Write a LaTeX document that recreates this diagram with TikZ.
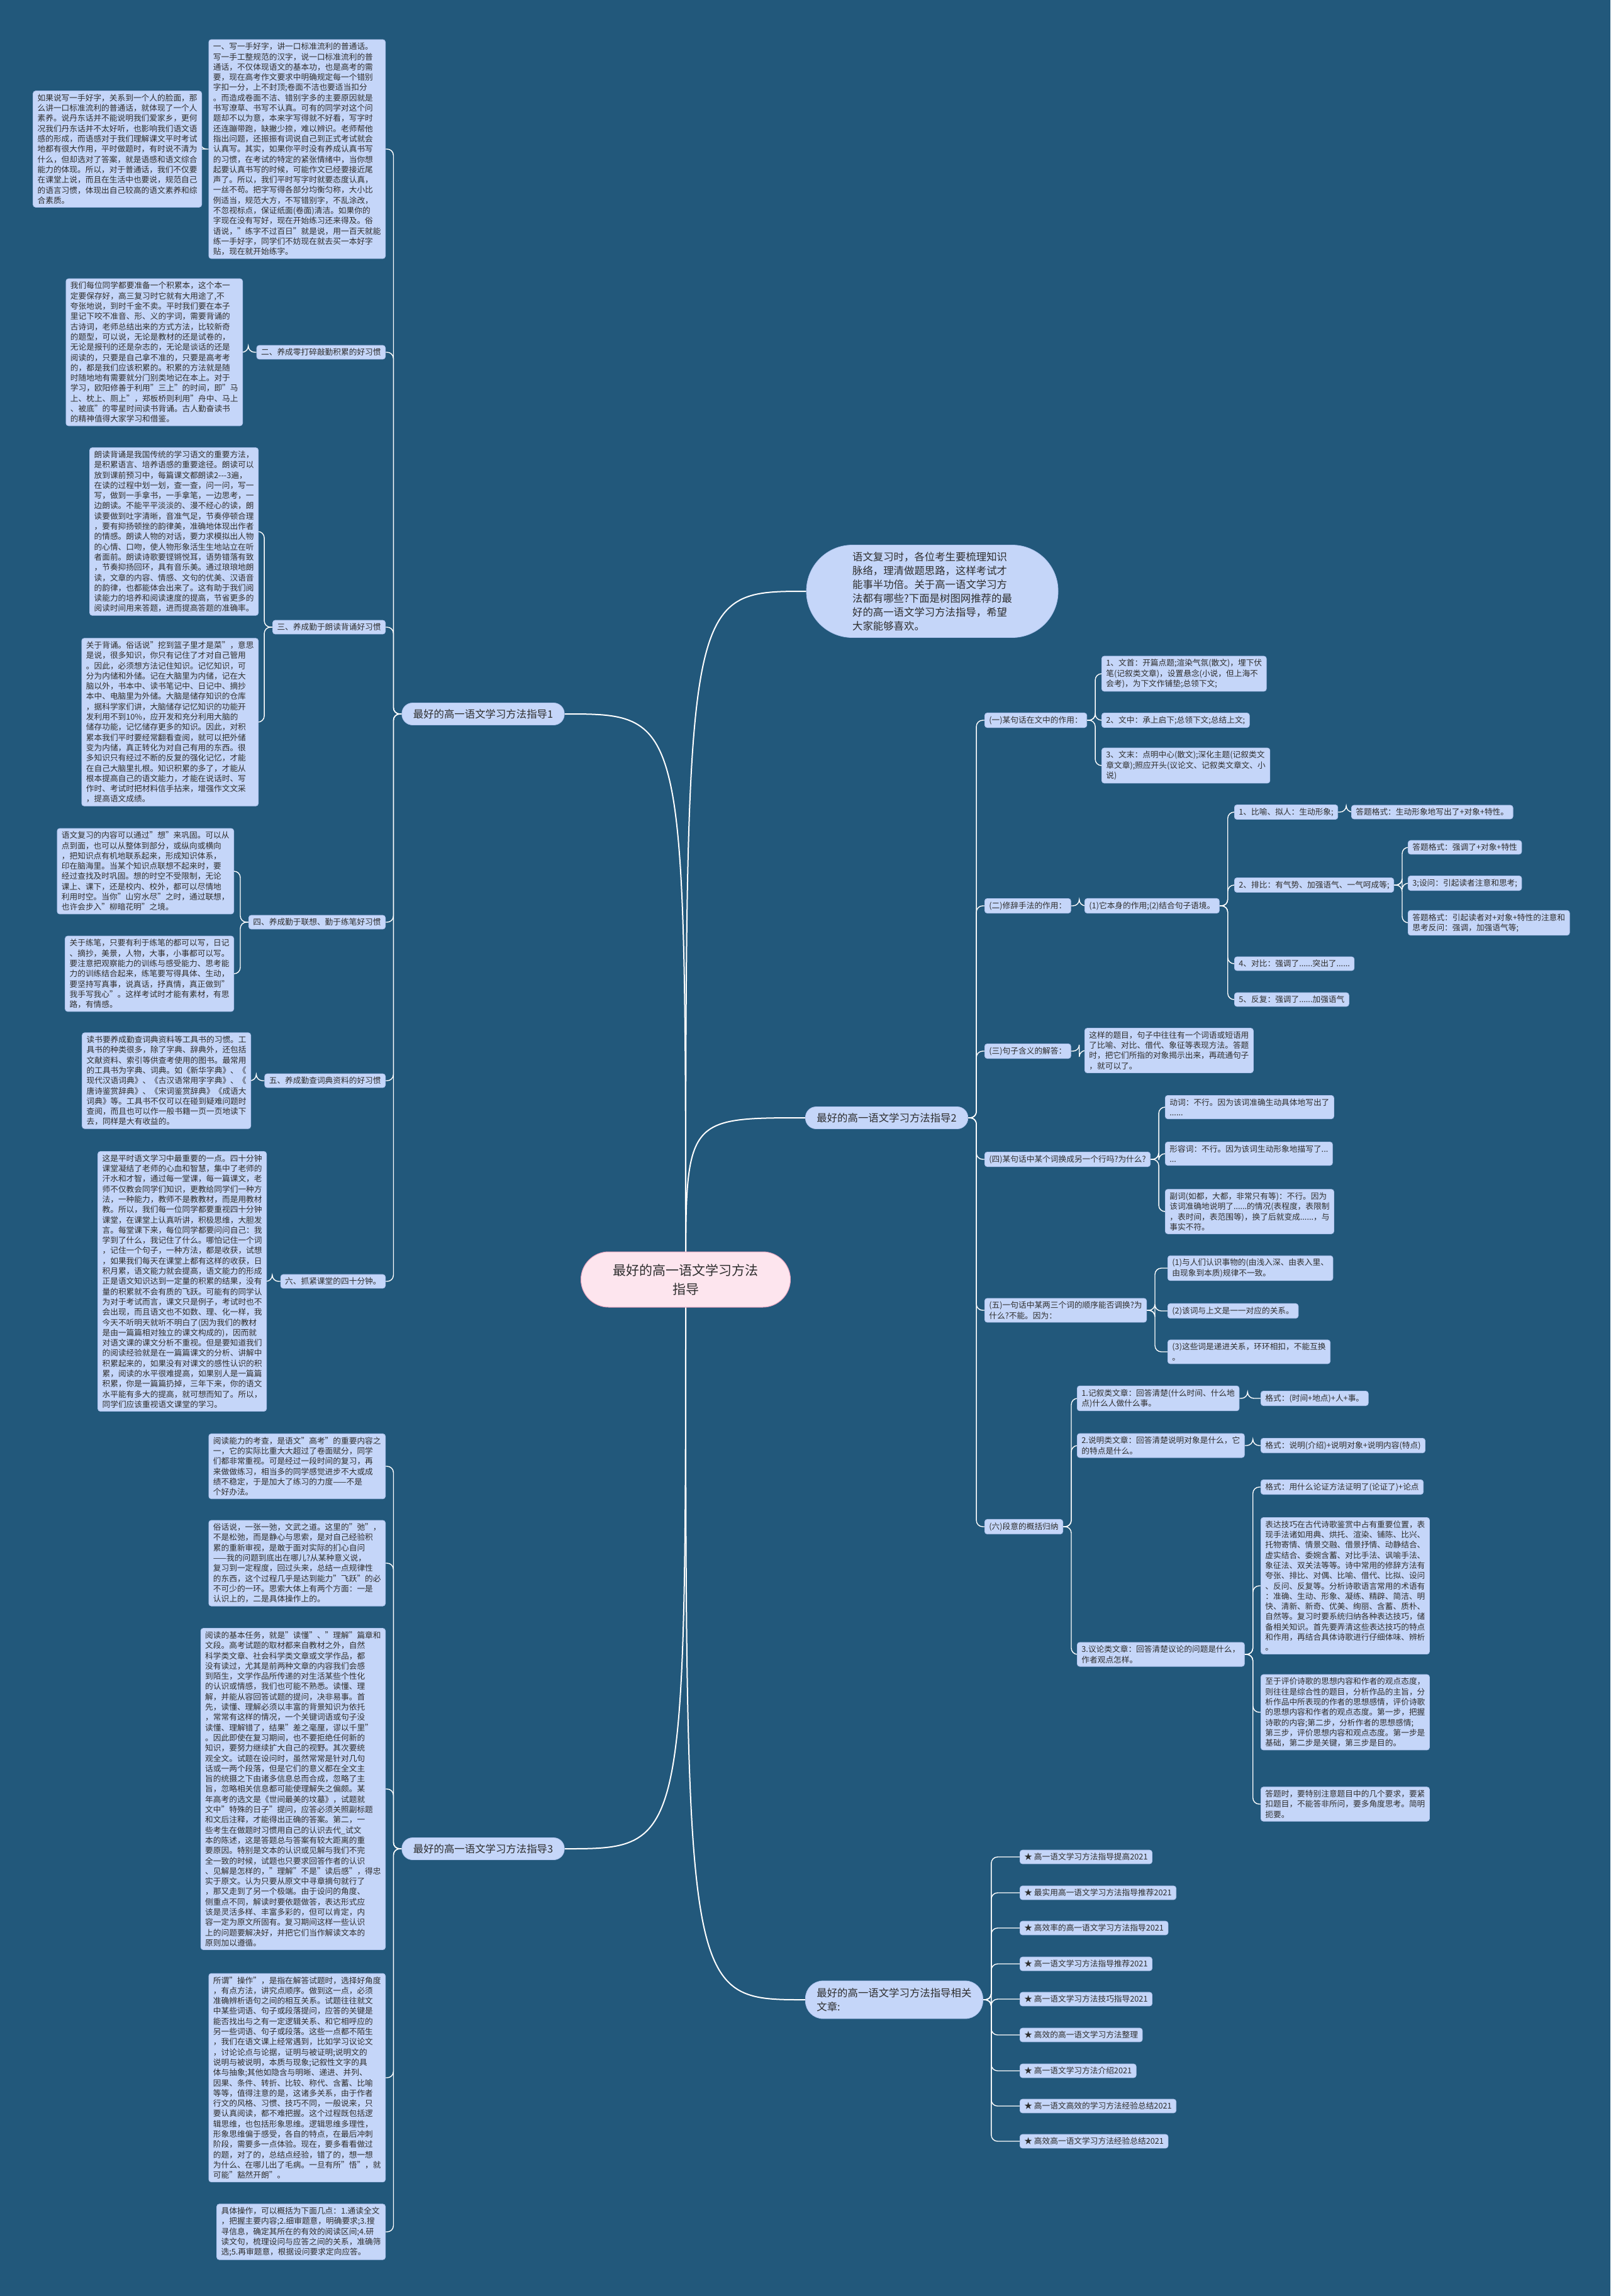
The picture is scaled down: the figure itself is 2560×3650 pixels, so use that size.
\documentclass[tikz,border=0pt]{standalone}
\usepackage{fontspec}
\setmainfont{Noto Sans CJK SC}
\usetikzlibrary{calc}
\definecolor{bgc}{HTML}{22587B}
\definecolor{boxc}{HTML}{C5D6F9}
\definecolor{boxd}{HTML}{AFC4EE}
\definecolor{txt}{HTML}{2E2E2E}
\definecolor{pinkf}{HTML}{FDE5EE}
\definecolor{pinkd}{HTML}{E8A3BE}
\pgfdeclarelayer{bglayer}\pgfdeclarelayer{links}\pgfsetlayers{bglayer,links,main}
\tikzset{
 tb/.style={draw=boxd, line width=0.8pt, fill=boxc, rounded corners=4pt, align=left, inner xsep=7pt, inner ysep=5pt, text=txt, font=\fontsize{12.7}{16.3}\selectfont},
 tbw/.style={tb, anchor=west},
 tbe/.style={tb, anchor=east},
 brn/.style={draw=boxd, line width=0.8pt, fill=boxc, rounded corners=17pt, inner xsep=18pt, minimum height=35pt, text=txt, font=\fontsize{16.4}{22}\selectfont, align=left},
 conn/.style={draw=white, line width=1.4pt, rounded corners=10pt},
 mainc/.style={draw=white, line width=2pt},
}
\newcommand\linkL[2]{\draw[conn] (#1.west) -- ++(-13,0) |- (#2.east);}
\newcommand\linkR[2]{\draw[conn] (#1.east) -- ++(13,0) |- (#2.west);}
\begin{document}
\begin{tikzpicture}[x=1pt,y=-1pt]
\begin{pgfonlayer}{bglayer}
\fill[bgc] (0,0) rectangle (2560,3650);
\end{pgfonlayer}
\useasboundingbox (0,0) rectangle (2560,3650);

% center
\node[draw=pinkd, line width=1pt, fill=pinkf, rounded corners=44pt, minimum width=333pt, minimum height=88pt, font=\fontsize{21}{30}\selectfont, align=center, text=txt] (cn) at (1090,2034) {最好的高一语文学习方法\\指导};

% branches
\node[brn] (br1) at (768,1135) {最好的高一语文学习方法指导1};
\node[brn, anchor=west] (br2) at (1280,1777) {最好的高一语文学习方法指导2};
\node[brn] (br3) at (768,2939) {最好的高一语文学习方法指导3};
\node[brn, anchor=west, rounded corners=28pt, minimum height=60pt] (br4) at (1280,3179) {最好的高一语文学习方法指导相关\\文章:};
\node[draw=boxd, line width=0.8pt, fill=boxc, rounded corners=73pt, minimum width=400pt, minimum height=147pt, align=left, font=\fontsize{16.4}{22}\selectfont, text=txt] (intro) at (1482,940) {语文复习时，各位考生要梳理知识\\脉络，理清做题思路，这样考试才\\能事半功倍。关于高一语文学习方\\法都有哪些?下面是树图网推荐的最\\好的高一语文学习方法指导，希望\\大家能够喜欢。};

% ---------- branch 1 (left) ----------
\node[tbe] (n1) at (613,237) {一、写一手好字，讲一口标准流利的普通话。\\写一手工整规范的汉字，说一口标准流利的普\\通话，不仅体现语文的基本功，也是高考的需\\要，现在高考作文要求中明确规定每一个错别\\字扣一分，上不封顶;卷面不洁也要适当扣分\\。而造成卷面不洁、错别字多的主要原因就是\\书写潦草、书写不认真。可有的同学对这个问\\题却不以为意，本来字写得就不好看，写字时\\还连蹦带跑，缺撇少捺，难以辨识。老师帮他\\指出问题，还振振有词说自己到正式考试就会\\认真写。其实，如果你平时没有养成认真书写\\的习惯，在考试的特定的紧张情绪中，当你想\\起要认真书写的时候，可能作文已经要接近尾\\声了。所以，我们平时写字时就要态度认真，\\一丝不苟。把字写得各部分均衡匀称，大小比\\例适当，规范大方，不写错别字，不乱涂改，\\不忽视标点，保证纸面(卷面)清洁。如果你的\\字现在没有写好，现在开始练习还来得及。俗\\语说，"练字不过百日"就是说，用一百天就能\\练一手好字，同学们不妨现在就去买一本好字\\贴，现在就开始练字。};
\node[tbe] (n1a) at (321,237) {如果说写一手好字，关系到一个人的脸面，那\\么讲一口标准流利的普通话，就体现了一个人\\素养。说丹东话并不能说明我们爱家乡，更何\\况我们丹东话并不太好听，也影响我们语文语\\感的形成，而语感对于我们理解课文平时考试\\地都有很大作用，平时做题时，有时说不清为\\什么，但却选对了答案，就是语感和语文综合\\能力的体现。所以，对于普通话，我们不仅要\\在课堂上说，而且在生活中也要说，规范自己\\的语言习惯，体现出自己较高的语文素养和综\\合素质。};

\node[tbe] (n2) at (613,560) {二、养成零打碎敲勤积累的好习惯};
\node[tbe] (n2a) at (386,560) {我们每位同学都要准备一个积累本，这个本一\\定要保存好，高三复习时它就有大用途了,不\\夸张地说，到时千金不卖。平时我们要在本子\\里记下咬不准音、形、义的字词，需要背诵的\\古诗词，老师总结出来的方式方法，比较新奇\\的题型，可以说，无论是教材的还是试卷的，\\无论是报刊的还是杂志的，无论是谈话的还是\\阅读的，只要是自己拿不准的，只要是高考考\\的，都是我们应该积累的。积累的方法就是随\\时随地地有需要就分门别类地记在本上。对于\\学习，欧阳修善于利用"三上"的时间，即"马\\上、枕上、厕上"，郑板桥则利用"舟中、马上\\、被底"的零星时间读书背诵。古人勤奋读书\\的精神值得大家学习和借鉴。};

\node[tbe] (n3) at (613,997) {三、养成勤于朗读背诵好习惯};
\node[tbe] (n3a) at (411,845) {朗读背诵是我国传统的学习语文的重要方法，\\是积累语言、培养语感的重要途径。朗读可以\\放到课前预习中，每篇课文都朗读2-{}-{}-3遍，\\在读的过程中划一划，查一查，问一问，写一\\写，做到一手拿书，一手拿笔，一边思考，一\\边朗读。不能平平淡淡的、漫不经心的读，朗\\读要做到吐字清晰，音准气足，节奏停顿合理\\，要有抑扬顿挫的韵律美，准确地体现出作者\\的情感。朗读人物的对话，要力求模拟出人物\\的心情、口吻，使人物形象活生生地站立在听\\者面前。朗读诗歌要铿锵悦耳，语势错落有致\\，节奏抑扬回环，具有音乐美。通过琅琅地朗\\读，文章的内容、情感、文句的优美、汉语音\\的韵律，也都能体会出来了。这有助于我们阅\\读能力的培养和阅读速度的提高，节省更多的\\阅读时间用来答题，进而提高答题的准确率。};
\node[tbe] (n3b) at (411,1148) {关于背诵。俗话说"挖到篮子里才是菜"，意思\\是说，很多知识，你只有记住了才对自己管用\\。因此，必须想方法记住知识。记忆知识，可\\分为内储和外储。记在大脑里为内储，记在大\\脑以外，书本中、读书笔记中、日记中、摘抄\\本中、电脑里为外储。大脑是储存知识的仓库\\，据科学家们讲，大脑储存记忆知识的功能开\\发利用不到10\%，应开发和充分利用大脑的\\储存功能，记忆储存更多的知识。因此，对积\\累本我们平时要经常翻看查阅，就可以把外储\\变为内储，真正转化为对自己有用的东西。很\\多知识只有经过不断的反复的强化记忆，才能\\在自己大脑里扎根。知识积累的多了，才能从\\根本提高自己的语文能力，才能在说话时、写\\作时、考试时把材料信手拈来，增强作文文采\\，提高语文成绩。};

\node[tbe] (n4) at (613,1466) {四、养成勤于联想、勤于练笔好习惯};
\node[tbe] (n4a) at (372,1385) {语文复习的内容可以通过"想"来巩固。可以从\\点到面，也可以从整体到部分，或纵向或横向\\，把知识点有机地联系起来，形成知识体系，\\印在脑海里。当某个知识点联想不起来时，要\\经过查找及时巩固。想的时空不受限制，无论\\课上、课下，还是校内、校外，都可以尽情地\\利用时空。当你"山穷水尽"之时，通过联想，\\也许会步入"柳暗花明"之境。};
\node[tbe] (n4b) at (372,1548) {关于练笔，只要有利于练笔的都可以写，日记\\、摘抄，美景，人物，大事，小事都可以写。\\要注意把观察能力的训练与感受能力、思考能\\力的训练结合起来，练笔要写得具体、生动，\\要坚持写真事，说真话，抒真情，真正做到"\\我手写我心"。这样考试时才能有素材，有思\\路，有情感。};

\node[tbe] (n5) at (613,1718) {五、养成勤查词典资料的好习惯};
\node[tbe] (n5a) at (399,1718) {读书要养成勤查词典资料等工具书的习惯。工\\具书的种类很多，除了字典、辞典外，还包括\\文献资料、索引等供查考使用的图书。最常用\\的工具书为字典、词典。如《新华字典》、《\\现代汉语词典》、《古汉语常用字字典》、《\\唐诗鉴赏辞典》、《宋词鉴赏辞典》《成语大\\词典》等。工具书不仅可以在碰到疑难问题时\\查阅，而且也可以作一般书籍一页一页地读下\\去，同样是大有收益的。};

\node[tbe] (n6) at (613,2037) {六、抓紧课堂的四十分钟。};
\node[tbe] (n6a) at (424,2037) {这是平时语文学习中最重要的一点。四十分钟\\课堂凝结了老师的心血和智慧，集中了老师的\\汗水和才智，通过每一堂课，每一篇课文，老\\师不仅教会同学们知识，更教给同学们一种方\\法，一种能力，教师不是教教材，而是用教材\\教。所以，我们每一位同学都要重视四十分钟\\课堂，在课堂上认真听讲，积极思维，大胆发\\言。每堂课下来，每位同学都要问问自己：我\\学到了什么，我记住了什么。哪怕记住一个词\\，记住一个句子，一种方法，都是收获，试想\\，如果我们每天在课堂上都有这样的收获，日\\积月累，语文能力就会提高，语文能力的形成\\正是语文知识达到一定量的积累的结果，没有\\量的积累就不会有质的飞跃。可能有的同学认\\为对于考试而言，课文只是例子，考试时也不\\会出现，而且语文也不如数、理、化一样，我\\今天不听明天就听不明白了(因为我们的教材\\是由一篇篇相对独立的课文构成的)，因而就\\对语文课的课文分析不重视。但是要知道我们\\的阅读经验就是在一篇篇课文的分析、讲解中\\积累起来的，如果没有对课文的感性认识的积\\累，阅读的水平很难提高，如果别人是一篇篇\\积累，你是一篇篇扔掉，三年下来，你的语文\\水平能有多大的提高，就可想而知了。所以，\\同学们应该重视语文课堂的学习。};

% ---------- branch 3 (left) ----------
\node[tbe] (m1) at (613,2331) {阅读能力的考查，是语文"高考"的重要内容之\\一，它的实际比重大大超过了卷面赋分，同学\\们都非常重视。可是经过一段时间的复习，再\\来做做练习，相当多的同学感觉进步不大或成\\绩不稳定，于是加大了练习的力度——不是\\个好办法。};
\node[tbe] (m2) at (613,2485) {俗话说，一张一弛，文武之道。这里的"弛"，\\不是松弛，而是静心与思索，是对自己经验积\\累的重新审视，是敢于面对实际的扪心自问\\——我的问题到底出在哪儿?从某种意义说，\\复习到一定程度，回过头来，总结一点规律性\\的东西，这个过程几乎是达到能力"飞跃"的必\\不可少的一环。思索大体上有两个方面：一是\\认识上的，二是具体操作上的。};
\node[tbe] (m3) at (613,2844) {阅读的基本任务，就是"读懂"、"理解"篇章和\\文段。高考试题的取材都来自教材之外，自然\\科学类文章、社会科学类文章或文学作品，都\\没有读过，尤其是前两种文章的内容我们会感\\到陌生，文学作品所传递的对生活某些个性化\\的认识或情感，我们也可能不熟悉。读懂、理\\解，并能从容回答试题的提问，决非易事。首\\先，读懂、理解必须以丰富的背景知识为依托\\，常常有这样的情况，一个关键词语或句子没\\读懂、理解错了，结果"差之毫厘，谬以千里"\\。因此即使在复习期间，也不要拒绝任何新的\\知识，要努力继续扩大自己的视野。其次要统\\观全文。试题在设问时，虽然常常是针对几句\\话或一两个段落，但是它们的意义都在全文主\\旨的统摄之下由诸多信息总而合成，忽略了主\\旨，忽略相关信息都可能使理解失之偏颇。某\\年高考的选文是《世间最美的坟墓》，试题就\\文中"特殊的日子"提问，应答必须关照副标题\\和文后注释，才能得出正确的答案。第二，一\\些考生在做题时习惯用自己的认识去代\_试文\\本的陈述，这是答题总与答案有较大距离的重\\要原因。特别是文本的认识或见解与我们不完\\全一致的时候，试题也只要求回答作者的认识\\、见解是怎样的，"理解"不是"读后感"，得忠\\实于原文。认为只要从原文中寻章摘句就行了\\，那又走到了另一个极端。由于设问的角度、\\侧重点不同，解读时要依题做答，表达形式应\\该是灵活多样、丰富多彩的，但可以肯定，内\\容一定为原文所固有。复习期间这样一些认识\\上的问题要解决好，并把它们当作解读文本的\\原则加以遵循。};
\node[tbe] (m4) at (613,3303) {所谓"操作"，是指在解答试题时，选择好角度\\，有点方法，讲究点顺序。做到这一点，必须\\准确辨析语句之间的相互关系。试题往往就文\\中某些词语、句子或段落提问，应答的关键是\\能否找出与之有一定逻辑关系、和它相呼应的\\另一些词语、句子或段落。这些一点都不陌生\\，我们在语文课上经常遇到，比如学习议论文\\，讨论论点与论据，证明与被证明;说明文的\\说明与被说明，本质与现象;记叙性文字的具\\体与抽象;其他如隐含与明晰、递进、并列、\\因果、条件、转折、比较、称代、含蓄、比喻\\等等，值得注意的是，这诸多关系，由于作者\\行文的风格、习惯、技巧不同，一般说来，只\\要认真阅读，都不难把握。这个过程既包括逻\\辑思维，也包括形象思维。逻辑思维多理性，\\形象思维偏于感受，各自的特点，在最后冲刺\\阶段，需要多一点体验。现在，要多看看做过\\的题，对了的，总结点经验，错了的，想一想\\为什么、在哪儿出了毛病。一旦有所"悟"，就\\可能"豁然开朗"。};
\node[tbe] (m5) at (613,3548) {具体操作，可以概括为下面几点：1.通读全文\\，把握主要内容;2.细审题意，明确要求;3.搜\\寻信息，确定其所在的有效的阅读区间;4.研\\读文句，梳理设问与应答之间的关系，准确筛\\选;5.再审题意，根据设问要求定向应答。};

% ---------- branch 2 (right) ----------
\node[tbw] (r1) at (1565,1145) {(一)某句话在文中的作用：};
\node[tbw] (r1a) at (1751,1071) {1、文首：开篇点题;渲染气氛(散文)，埋下伏\\笔(记叙类文章)，设置悬念(小说，但上海不\\会考)，为下文作铺垫;总领下文;};
\node[tbw] (r1b) at (1751,1145) {2、文中：承上启下;总领下文;总结上文;};
\node[tbw] (r1c) at (1751,1217) {3、文末：点明中心(散文);深化主题(记叙类文\\章文章);照应开头(议论文、记叙类文章文、小\\说)};

\node[tbw] (r2) at (1565,1440) {(二)修辞手法的作用：};
\node[tbw] (r2a) at (1724,1440) {(1)它本身的作用;(2)结合句子语境。};
\node[tbw] (r2a1) at (1962,1291) {1、比喻、拟人：生动形象;};
\node[tbw] (r2a1x) at (2148,1291) {答题格式：生动形象地写出了+对象+特性。};
\node[tbw] (r2a2) at (1962,1407) {2、排比：有气势、加强语气、一气呵成等;};
\node[tbw] (r2a2x) at (2238,1347) {答题格式：强调了+对象+特性};
\node[tbw] (r2a2y) at (2238,1404) {3;设问：引起读者注意和思考;};
\node[tbw] (r2a2z) at (2238,1467) {答题格式：引起读者对+对象+特性的注意和\\思考反问：强调，加强语气等;};
\node[tbw] (r2a3) at (1962,1532) {4、对比：强调了......突出了......};
\node[tbw] (r2a4) at (1962,1589) {5、反复：强调了......加强语气};

\node[tbw] (r3) at (1565,1671) {(三)句子含义的解答：};
\node[tbw] (r3a) at (1724,1670) {这样的题目，句子中往往有一个词语或短语用\\了比喻、对比、借代、象征等表现方法。答题\\时，把它们所指的对象揭示出来，再疏通句子\\，就可以了。};

\node[tbw] (r4) at (1565,1843) {(四)某句话中某个词换成另一个行吗?为什么?};
\node[tbw] (r4a) at (1852,1760) {动词：不行。因为该词准确生动具体地写出了\\......};
\node[tbw] (r4b) at (1852,1834) {形容词：不行。因为该词生动形象地描写了...\\...};
\node[tbw] (r4c) at (1852,1926) {副词(如都，大都，非常只有等)：不行。因为\\该词准确地说明了......的情况(表程度，表限制\\，表时间，表范围等)，换了后就变成......，与\\事实不符。};

\node[tbw] (r5) at (1565,2083) {(五)一句话中某两三个词的顺序能否调换?为\\什么?不能。因为：};
\node[tbw] (r5a) at (1856,2016) {(1)与人们认识事物的(由浅入深、由表入里、\\由现象到本质)规律不一致。};
\node[tbw] (r5b) at (1856,2084) {(2)该词与上文是一一对应的关系。};
\node[tbw] (r5c) at (1856,2149) {(3)这些词是递进关系，环环相扣，不能互换\\。};

\node[tbw] (r6) at (1565,2427) {(六)段意的概括归纳};
\node[tbw] (r6a) at (1712,2223) {1.记叙类文章：回答清楚(什么时间、什么地\\点)什么人做什么事。};
\node[tbw] (r6ax) at (2004,2223) {格式：(时间+地点)+人+事。};
\node[tbw] (r6b) at (1712,2298) {2.说明类文章：回答清楚说明对象是什么，它\\的特点是什么。};
\node[tbw] (r6bx) at (2004,2298) {格式：说明(介绍)+说明对象+说明内容(特点)};
\node[tbw] (r6c) at (1712,2630) {3.议论类文章：回答清楚议论的问题是什么，\\作者观点怎样。};
\node[tbw] (r6c1) at (2004,2364) {格式：用什么论证方法证明了(论证了)+论点};
\node[tbw] (r6c2) at (2004,2521) {表达技巧在古代诗歌鉴赏中占有重要位置，表\\现手法诸如用典、烘托、渲染、铺陈、比兴、\\托物寄情、情景交融、借景抒情、动静结合、\\虚实结合、委婉含蓄、对比手法、讽喻手法、\\象征法、双关法等等。诗中常用的修辞方法有\\夸张、排比、对偶、比喻、借代、比拟、设问\\、反问、反复等。分析诗歌语言常用的术语有\\：准确、生动、形象、凝练、精辟、简洁、明\\快、清新、新奇、优美、绚丽、含蓄、质朴、\\自然等。复习时要系统归纳各种表达技巧，储\\备相关知识。首先要弄清这些表达技巧的特点\\和作用，再结合具体诗歌进行仔细体味、辨析\\。};
\node[tbw] (r6c3) at (2004,2722) {至于评价诗歌的思想内容和作者的观点态度，\\则往往是综合性的题目，分析作品的主旨，分\\析作品中所表现的作者的思想感情，评价诗歌\\的思想内容和作者的观点态度。第一步，把握\\诗歌的内容;第二步，分析作者的思想感情;\\第三步，评价思想内容和观点态度。第一步是\\基础，第二步是关键，第三步是目的。};
\node[tbw] (r6c4) at (2004,2868) {答题时，要特别注意题目中的几个要求，要紧\\扣题目，不能答非所问，要多角度思考。简明\\扼要。};

% ---------- branch 4 ----------
\node[tbw] (s1) at (1621,2952) {★ 高一语文学习方法指导提高2021};
\node[tbw] (s2) at (1621,3009) {★ 最实用高一语文学习方法指导推荐2021};
\node[tbw] (s3) at (1621,3065) {★ 高效率的高一语文学习方法指导2021};
\node[tbw] (s4) at (1621,3122) {★ 高一语文学习方法指导推荐2021};
\node[tbw] (s5) at (1621,3178) {★ 高一语文学习方法技巧指导2021};
\node[tbw] (s6) at (1621,3235) {★ 高效的高一语文学习方法整理};
\node[tbw] (s7) at (1621,3292) {★ 高一语文学习方法介绍2021};
\node[tbw] (s8) at (1621,3348) {★ 高一语文高效的学习方法经验总结2021};
\node[tbw] (s9) at (1621,3404) {★ 高效高一语文学习方法经验总结2021};

% ---------- connectors ----------
\begin{pgfonlayer}{links}
\draw[mainc] (1090,2034) .. controls (1090,1135) .. (br1.east);
\draw[mainc] (1090,2034) .. controls (1090,940) .. (intro.west);
\draw[mainc] (1090,2034) .. controls (1090,1777) .. (br2.west);
\draw[mainc] (1090,2034) .. controls (1090,2939) .. (br3.east);
\draw[mainc] (1090,2034) .. controls (1090,3179) .. (br4.west);
\foreach \c in {n1,n2,n3,n4,n5,n6} {\linkL{br1}{\c}}
\linkL{n1}{n1a}
\linkL{n2}{n2a}
\linkL{n3}{n3a}\linkL{n3}{n3b}
\linkL{n4}{n4a}\linkL{n4}{n4b}
\linkL{n5}{n5a}
\linkL{n6}{n6a}
\foreach \c in {m1,m2,m3,m4,m5} {\linkL{br3}{\c}}
\foreach \c in {r1,r2,r3,r4,r5,r6} {\linkR{br2}{\c}}
\foreach \c in {r1a,r1b,r1c} {\linkR{r1}{\c}}
\linkR{r2}{r2a}
\foreach \c in {r2a1,r2a2,r2a3,r2a4} {\linkR{r2a}{\c}}
\linkR{r2a1}{r2a1x}
\foreach \c in {r2a2x,r2a2y,r2a2z} {\linkR{r2a2}{\c}}
\linkR{r3}{r3a}
\foreach \c in {r4a,r4b,r4c} {\linkR{r4}{\c}}
\foreach \c in {r5a,r5b,r5c} {\linkR{r5}{\c}}
\foreach \c in {r6a,r6b,r6c} {\linkR{r6}{\c}}
\linkR{r6a}{r6ax}
\linkR{r6b}{r6bx}
\foreach \c in {r6c1,r6c2,r6c3,r6c4} {\linkR{r6c}{\c}}
\foreach \c in {s1,s2,s3,s4,s5,s6,s7,s8,s9} {\linkR{br4}{\c}}
\end{pgfonlayer}
\end{tikzpicture}
\end{document}
